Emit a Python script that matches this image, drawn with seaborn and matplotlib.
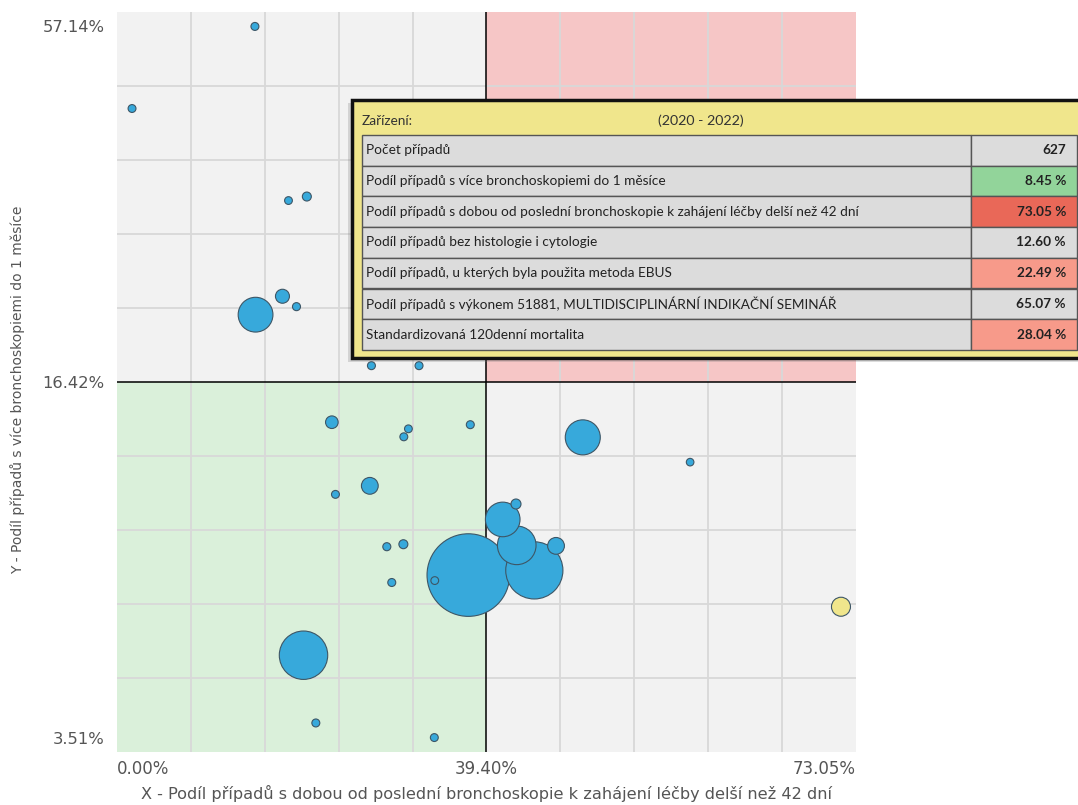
import numpy as np
import pandas as pd
import matplotlib
matplotlib.use("Agg")
import matplotlib.pyplot as plt
import seaborn as sns
from matplotlib.patches import Rectangle

# --- data ---
x_min, x_med, x_max = 0.00, 39.40, 73.05
y_min, y_med, y_max = 3.51, 16.42, 57.14

# share of cases with delay > 42 days (x), share with repeated bronchoscopy (y), cases (bubble)
x_vals = [13.66, 0.00, 17.39, 19.43, 13.73, 16.72, 18.28, 26.61, 31.90, 22.21,
          30.72, 30.21, 37.60, 26.43, 22.61, 28.32, 30.16, 37.38, 28.87, 33.65,
          19.06, 20.43, 33.60, 48.54, 58.73, 42.20, 40.94, 42.27, 46.00, 43.94, 73.05]
y_vals = [57.14, 47.74, 37.20, 37.66, 24.13, 26.24, 25.05, 18.29, 18.29, 14.96,
          14.72, 14.43, 14.87, 12.65, 12.34, 10.44, 10.53, 9.41, 9.14, 9.21,
          6.50, 4.04, 3.51, 14.41, 13.51, 11.99, 11.43, 10.49, 10.47, 9.58, 8.26]
pocet = [110, 108, 105, 140, 2100, 340, 112, 110, 110, 276,
         105, 108, 110, 490, 108, 112, 140, 11850, 110, 105,
         4070, 110, 108, 2130, 100, 174, 2080, 2590, 490, 5680, 627]
vybrane = [False] * 30 + [True]

x_title = "X - Podíl případů s dobou od poslední bronchoskopie k zahájení léčby delší než 42 dní"
y_title = "Y - Podíl případů s více bronchoskopiemi do 1 měsíce"

tab_nazev = "Zařízení:"
tab_obdobi = "(2020 - 2022)"
tab_labels = [
    "Počet případů",
    "Podíl případů s více bronchoskopiemi do 1 měsíce",
    "Podíl případů s dobou od poslední bronchoskopie k zahájení léčby delší než 42 dní",
    "Podíl případů bez histologie i cytologie",
    "Podíl případů, u kterých byla použita metoda EBUS",
    "Podíl případů s výkonem 51881, MULTIDISCIPLINÁRNÍ INDIKAČNÍ SEMINÁŘ",
    "Standardizovaná 120denní mortalita",
]
tab_values = ["627", "8.45 %", "73.05 %", "12.60 %", "22.49 %", "65.07 %", "28.04 %"]
tab_colors = ["#dcdcdc", "#92d49a", "#e96858", "#dcdcdc", "#f79a8a", "#dcdcdc", "#f79a8a"]

df = pd.DataFrame({"x": x_vals, "y": y_vals, "pocet": pocet, "vybrane": vybrane})
df = df.sort_values("pocet", ascending=False)  # small bubbles on top


def split_scale(lo, mid, hi):
    # median sits in the middle of the axis, each half linear
    def fwd(v):
        v = np.asarray(v, dtype=float)
        return np.where(v <= mid, (v - lo) / (mid - lo) * 0.5, 0.5 + (v - mid) / (hi - mid) * 0.5)

    def inv(u):
        u = np.asarray(u, dtype=float)
        return np.where(u <= 0.5, lo + u * 2 * (mid - lo), mid + (u - 0.5) * 2 * (hi - mid))
    return fwd, inv


sns.set_style("white")
plt.rcParams["font.family"] = ["DejaVu Sans"]

fig = plt.figure(figsize=(10.78, 8.05), dpi=100)
ax = fig.add_axes([117 / 1078, 53 / 805, 739 / 1078, 740 / 805])

sns.scatterplot(data=df, x="x", y="y", size="pocet", sizes=(0, 3582), size_norm=(0, 12000),
                hue="vybrane", palette={False: "#37a9db", True: "#f0e68c"},
                edgecolor="#3d5666", linewidth=0.8, alpha=1, legend=False, ax=ax, zorder=3)

fx, ix = split_scale(x_min, x_med, x_max)
fy, iy = split_scale(y_min, y_med, y_max)
ax.set_xscale("function", functions=(fx, ix))
ax.set_yscale("function", functions=(fy, iy))
pad_x, pad_y = 0.0212, 0.0203
x_lo, x_hi = float(ix(-pad_x)), float(ix(1 + pad_x))
y_lo, y_hi = float(iy(-pad_y)), float(iy(1 + pad_y))
ax.set_xlim(x_lo, x_hi)
ax.set_ylim(y_lo, y_hi)

# quadrants
ax.axvspan(x_lo, x_med, ymin=0.5, ymax=1, color="#f2f2f2", lw=0, zorder=0)
ax.axvspan(x_med, x_hi, ymin=0.5, ymax=1, color="#f6c6c6", lw=0, zorder=0)
ax.axvspan(x_lo, x_med, ymin=0, ymax=0.5, color="#daf0da", lw=0, zorder=0)
ax.axvspan(x_med, x_hi, ymin=0, ymax=0.5, color="#f2f2f2", lw=0, zorder=0)
ax.axvline(x_med, color="black", lw=1.1, zorder=2)
ax.axhline(y_med, color="black", lw=1.1, zorder=2)

# grid: ten equal parts of the plot area
fr = np.arange(1, 10) / 10
ax.set_xticks(ix(-pad_x + fr * (1 + 2 * pad_x)), minor=True)
ax.set_yticks(iy(-pad_y + fr * (1 + 2 * pad_y)), minor=True)
ax.grid(which="minor", color="#d8d8d8", lw=1.3, zorder=1)
ax.grid(which="major", visible=False)
ax.set_axisbelow(True)
for s in ax.spines.values():
    s.set_visible(False)

ax.set_xticks([x_lo, x_med, x_hi])
ax.set_xticklabels([f"{v:.2f}%" for v in (x_min, x_med, x_max)], fontsize=12, color="#555555")
xl = ax.get_xticklabels()
xl[0].set_ha("left")
xl[2].set_ha("right")
ax.set_yticks([y_min, y_med, y_max])
ax.set_yticklabels([f"{v:.2f}%" for v in (y_min, y_med, y_max)], fontsize=11.8, color="#555555")
ax.tick_params(axis="x", which="both", length=0, pad=6)
ax.tick_params(axis="y", which="both", length=0, pad=9)

ax.set_xlabel(x_title, fontsize=11.6, color="#555555", family="DejaVu Sans")
ax.set_ylabel(y_title, fontsize=10, color="#555555", family="DejaVu Sans")
ax.xaxis.set_label_coords(0.5, -0.044)
ax.yaxis.set_label_coords(-0.1245, 0.49)

# tooltip table of the selected facility (pixel coordinates)
ov = fig.add_axes([0, 0, 1, 1], zorder=5)
ov.set_xlim(0, 1078)
ov.set_ylim(805, 0)
ov.axis("off")
ov.add_patch(Rectangle((348, 103), 760, 259, facecolor="#777777", alpha=0.25, lw=0))
ov.add_patch(Rectangle((352, 100), 760, 258, facecolor="#f0e68c", edgecolor="#111111", lw=2.5))
ov.text(362, 121, tab_nazev, family="Lato", fontsize=9.8, color="#333333", va="center")
ov.text(658, 121, tab_obdobi, family="Lato", fontsize=10.3, color="#333333", va="center")
row_h = 30.7
for i, (lab, val, col) in enumerate(zip(tab_labels, tab_values, tab_colors)):
    top = 135 + i * row_h
    ov.add_patch(Rectangle((362, top), 609, row_h, facecolor="#dcdcdc", edgecolor="#555555", lw=1))
    ov.add_patch(Rectangle((971, top), 106, row_h, facecolor=col, edgecolor="#555555", lw=1))
    ov.text(366, top + row_h / 2, lab, family="Lato", fontsize=9.8, color="#222222", va="center")
    ov.text(1066, top + row_h / 2, val, family="Lato", fontsize=9.8, weight="bold",
            color="#222222", va="center", ha="right")

fig.savefig("out.png", dpi=100)
